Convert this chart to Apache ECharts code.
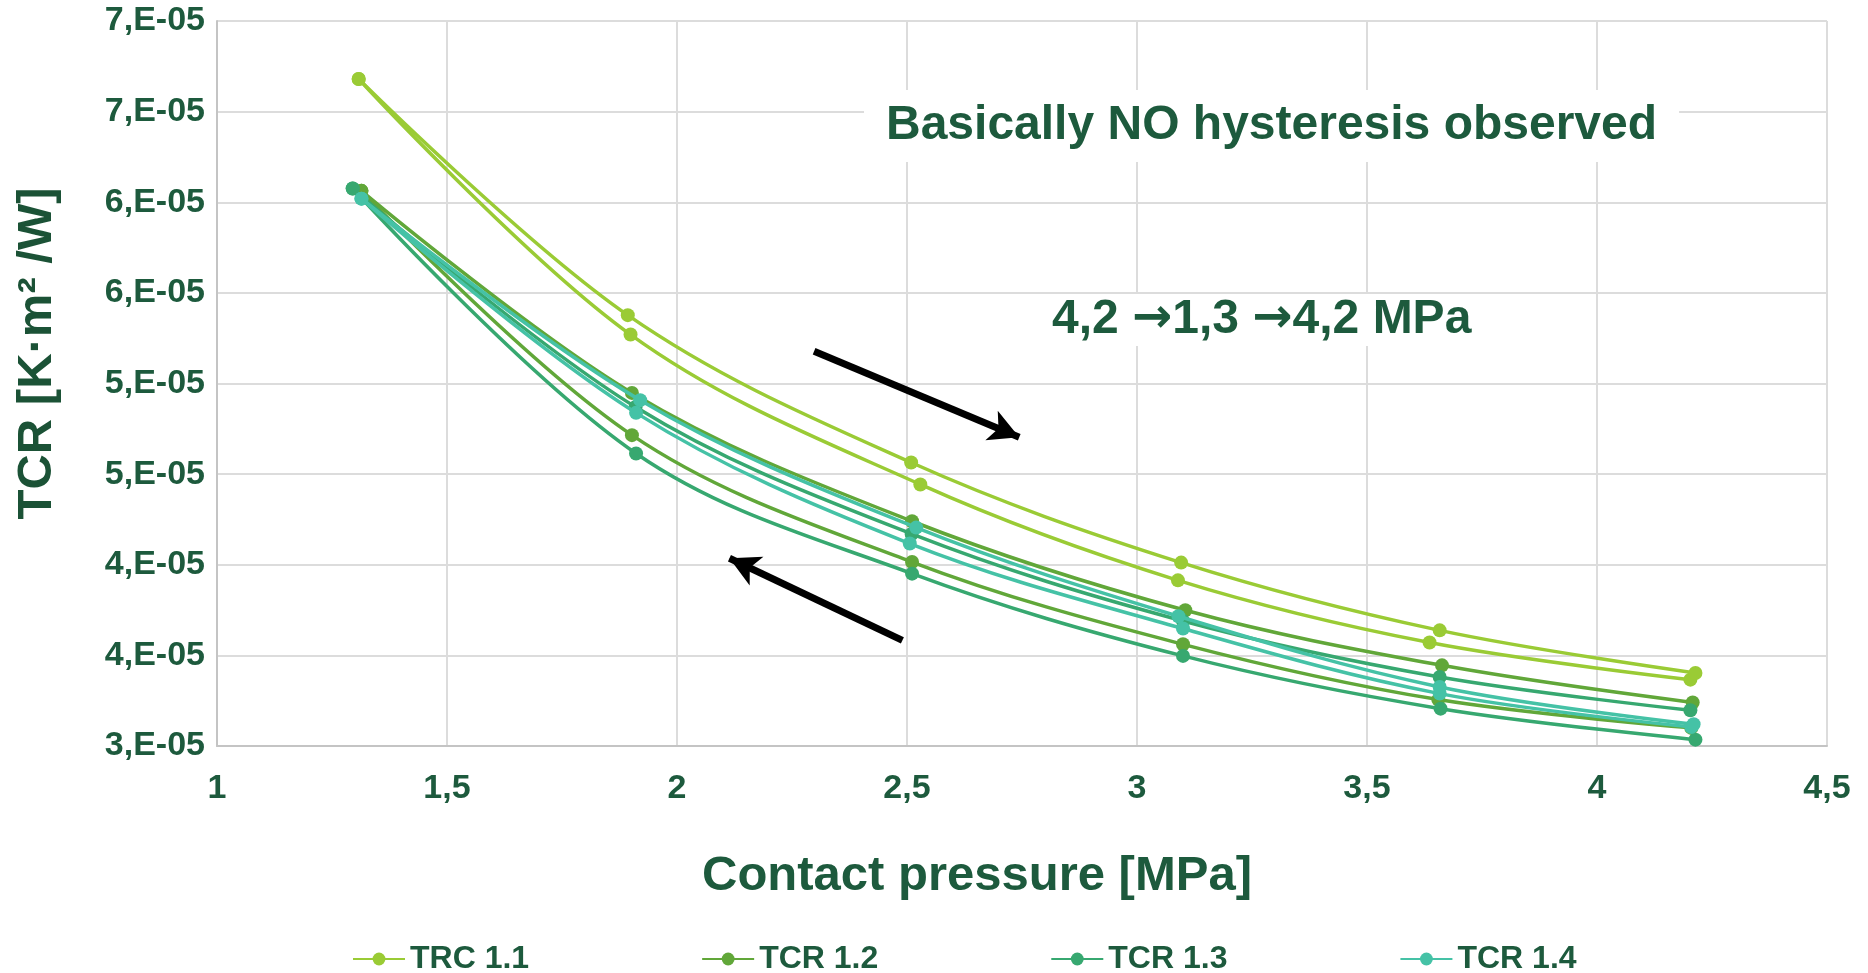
<!DOCTYPE html>
<html>
<head>
<meta charset="utf-8">
<title>TCR vs contact pressure</title>
<script src="https://cdn.jsdelivr.net/npm/echarts@6.0.0/dist/echarts.min.js"></script>
<style>
  html, body { margin: 0; padding: 0; background: #fff; }
  #main { width: 1868px; height: 973px; }
</style>
</head>
<body>
<div id="main"></div>
<script>
// pressures [MPa] and TCR values (in 1e-5 K.m2/W), cycle 4,2 -> 1,3 -> 4,2
var p11 = [4.203, 3.636, 3.089, 2.529, 1.899, 1.308, 1.893, 2.509, 3.096, 3.658, 4.214];
var r11 = [3.366, 3.571, 3.914, 4.443, 5.270, 6.680, 5.377, 4.564, 4.012, 3.638, 3.403];

var p12 = [4.205, 3.655, 3.100, 2.511, 1.902, 1.314, 1.902, 2.511, 3.105, 3.663, 4.208];
var r12 = [3.100, 3.256, 3.561, 4.015, 4.715, 6.063, 4.948, 4.240, 3.749, 3.445, 3.240];

var p13 = [4.214, 3.660, 3.100, 2.511, 1.911, 1.295, 1.910, 2.510, 3.100, 3.658, 4.203];
var r13 = [3.035, 3.206, 3.497, 3.951, 4.614, 6.076, 4.870, 4.170, 3.690, 3.381, 3.197];

var p14 = [4.205, 3.658, 3.100, 2.506, 1.911, 1.314, 1.920, 2.520, 3.090, 3.658, 4.210];
var r14 = [3.105, 3.289, 3.648, 4.117, 4.838, 6.020, 4.908, 4.205, 3.716, 3.326, 3.120];

var names = ['TRC 1.1', 'TCR 1.2', 'TCR 1.3', 'TCR 1.4'];
var colors = ['#9acb35', '#61a739', '#37a870', '#45c2a6'];

var yTickLabels = ['3,E-05', '4,E-05', '4,E-05', '5,E-05', '5,E-05', '6,E-05', '6,E-05', '7,E-05', '7,E-05'];

// arrows drawn on the plot (start, end) in axis units
var arrowDown = [[2.298, 5.178], [2.744, 4.704]];
var arrowUp = [[2.490, 3.583], [2.114, 4.036]];

var textColor = '#1d5a3d';
var font = '"Liberation Sans", Arial, sans-serif';

var allP = [p11, p12, p13, p14];
var allR = [r11, r12, r13, r14];

var series = [];
for (var i = 0; i < 4; i++) {
    var pts = [];
    for (var j = 0; j < allP[i].length; j++) {
        pts.push([allP[i][j], allR[i][j]]);
    }
    // unloading branch and reloading branch, both through the 1,3 MPa point
    var branches = [pts.slice(0, 6), pts.slice(5)];
    for (var b = 0; b < 2; b++) {
        series.push({
            name: names[i],
            type: 'line',
            data: branches[b],
            smooth: 0.35,
            symbol: 'circle',
            symbolSize: 14,
            showSymbol: true,
            lineStyle: { width: 3.5, color: colors[i] },
            itemStyle: { color: colors[i] },
            z: 2 + i
        });
    }
}

series.push({
    name: 'arrows',
    type: 'line',
    data: [],
    silent: true,
    markLine: {
        silent: true,
        symbol: ['none', 'arrow'],
        symbolSize: [24, 30],
        label: { show: false },
        lineStyle: { color: '#000', width: 7, type: 'solid' },
        itemStyle: { color: '#000' },
        emphasis: { disabled: true },
        data: [
            [{ coord: arrowDown[0] }, { coord: arrowDown[1] }],
            [{ coord: arrowUp[0] }, { coord: arrowUp[1] }]
        ]
    }
});

var chart = echarts.init(document.getElementById('main'));
var option = {
    backgroundColor: '#fff',
    animation: false,
    textStyle: { fontFamily: font },
    title: [
        {
            text: 'Basically NO hysteresis observed',
            left: 864,
            top: 90,
            padding: [12, 22],
            backgroundColor: '#fff',
            textStyle: { fontSize: 48, fontWeight: 'bold', color: textColor, fontFamily: font }
        },
        {
            text: '4,2 {a|\u2192}1,3 {a|\u2192}4,2 MPa',
            left: 1046,
            top: 294,
            padding: [2, 6],
            backgroundColor: '#fff',
            textStyle: {
                fontSize: 48, fontWeight: 'bold', color: textColor, fontFamily: font,
                rich: {
                    a: { fontSize: 48, fontWeight: 'bold', color: textColor, fontFamily: '"DejaVu Sans", sans-serif' }
                }
            }
        }
    ],
    grid: { left: 217, right: 41, top: 21, bottom: 227, containLabel: false },
    legend: {
        data: names,
        left: 347,
        top: 938,
        itemWidth: 52,
        itemHeight: 16,
        itemGap: 172,
        textStyle: { fontSize: 32, fontWeight: 'bold', color: textColor, fontFamily: font }
    },
    xAxis: {
        type: 'value',
        min: 1,
        max: 4.5,
        interval: 0.5,
        name: 'Contact pressure [MPa]',
        nameLocation: 'middle',
        nameGap: 106,
        nameTextStyle: { fontSize: 49, fontWeight: 'bold', color: textColor, padding: [0, 90, 0, 0] },
        axisLine: { show: true, lineStyle: { color: '#c4c4c4', width: 2 } },
        axisTick: { show: false },
        axisLabel: {
            fontSize: 34, fontWeight: 'bold', color: textColor, margin: 26,
            formatter: function (v) { return String(v).replace('.', ','); }
        },
        splitLine: { show: true, lineStyle: { color: '#dcdcdc', width: 2 } }
    },
    yAxis: {
        type: 'value',
        min: 3,
        max: 7,
        interval: 0.5,
        name: 'TCR [K\u00b7m\u00b2 /W]',
        nameLocation: 'middle',
        nameGap: 155,
        nameTextStyle: { fontSize: 49, fontWeight: 'bold', color: '#1b5236', padding: [0, 0, 0, 60] },
        axisLine: { show: true, lineStyle: { color: '#c4c4c4', width: 2 } },
        axisTick: { show: false },
        axisLabel: {
            fontSize: 34, fontWeight: 'bold', color: textColor, margin: 12,
            formatter: function (v) { return yTickLabels[Math.round((v - 3) / 0.5)]; }
        },
        splitLine: { show: true, lineStyle: { color: '#dcdcdc', width: 2 } }
    },
    series: series
};
chart.setOption(option);
</script>
</body>
</html>
